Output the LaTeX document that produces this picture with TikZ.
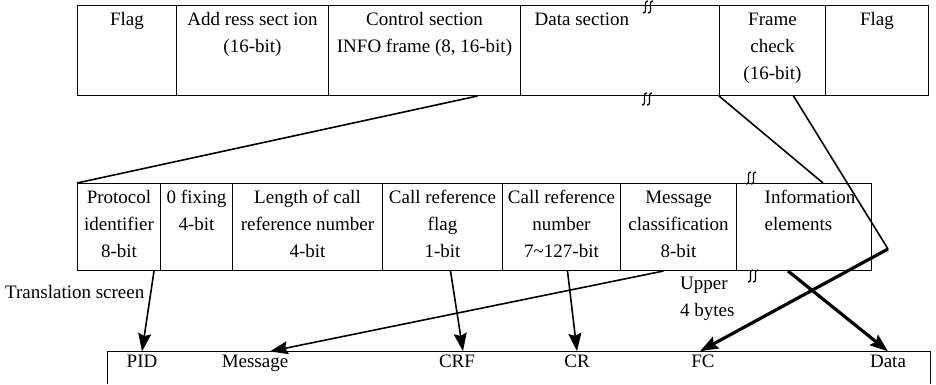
\documentclass[tikz,border=0pt]{standalone}
\usepackage{fontspec}
\setmainfont{Liberation Serif}
\usetikzlibrary{arrows.meta}
\begin{document}
\begin{tikzpicture}[x=1pt, y=-1pt,
    cell/.style={draw, line width=1pt, anchor=north west, inner sep=0pt},
    txt/.style={font=\fontsize{19}{27}\selectfont, align=center, inner sep=1.5pt},
    fld/.style={font=\fontsize{19}{27}\selectfont, anchor=base, inner sep=3pt},
    thinline/.style={line width=1.6pt},
    thickline/.style={line width=3.2pt},
    arr/.style={-{Stealth[length=18pt, width=13pt, inset=2.5pt]}}]
  \useasboundingbox (0,0) rectangle (936,384);

  % frame (top row)
  \node[cell, minimum width=99pt, minimum height=90pt] (fl1) at (77,5) {};
  \node[cell, minimum width=152pt, minimum height=90pt] (addr) at (176,5) {};
  \node[cell, minimum width=192pt, minimum height=90pt] (ctrl) at (328,5) {};
  \node[cell, minimum width=199pt, minimum height=90pt] (data) at (520,5) {};
  \node[cell, minimum width=106pt, minimum height=90pt] (fcs) at (719,5) {};
  \node[cell, minimum width=103pt, minimum height=90pt] (fl2) at (825,5) {};

  \node[txt, anchor=north] (tfl1) at (fl1.north) {\strut Flag};
  \node[txt, anchor=north] (taddr) at (addr.north) {\strut Add ress sect ion\\(16-bit)};
  \node[txt, anchor=north] (tctrl) at (ctrl.north) {\strut Control section\\INFO frame (8, 16-bit)};
  \node[txt, anchor=north west] (tdata) at ([xshift=13pt]data.north west) {\strut Data section};
  \node[txt, anchor=north] (tfcs) at (fcs.north) {\strut Frame\\check\\(16-bit)};
  \node[txt, anchor=north] (tfl2) at (fl2.north) {\strut Flag};

  % information section (middle row)
  \node[cell, minimum width=83pt, minimum height=87pt] (pid) at (77,183) {};
  \node[cell, minimum width=72pt, minimum height=87pt] (zero) at (160,183) {};
  \node[cell, minimum width=150pt, minimum height=87pt] (len) at (232,183) {};
  \node[cell, minimum width=120pt, minimum height=87pt] (crf) at (382,183) {};
  \node[cell, minimum width=118pt, minimum height=87pt] (cr) at (502,183) {};
  \node[cell, minimum width=116pt, minimum height=87pt] (msg) at (620,183) {};
  \node[cell, minimum width=135pt, minimum height=87pt] (info) at (736,183) {};

  \node[txt, anchor=north] (tpid) at (pid.north) {\strut Protocol\\identifier\\8-bit};
  \node[txt, anchor=north] (tzero) at (zero.north) {\strut 0 fixing\\4-bit};
  \node[txt, anchor=north] (tlen) at (len.north) {\strut Length of call\\reference number\\4-bit};
  \node[txt, anchor=north] (tcrf) at (crf.north) {\strut Call reference\\flag\\1-bit};
  \node[txt, anchor=north] (tcr) at (cr.north) {\strut Call reference\\number\\7\textasciitilde127-bit};
  \node[txt, anchor=north] (tmsg) at (msg.north) {\strut Message\\classification\\8-bit};
  \node[txt, anchor=north west, align=left] (tinfo) at ([xshift=27pt]info.north west) {\strut Information\\elements};

  % break marks
  \foreach \bx/\by in {648/7, 647/99, 751/178, 753/276}
    \foreach \dx in {-2.5, 2.5}
      \draw[line width=1.3pt] (\bx+\dx-2.5, \by+6) .. controls (\bx+\dx+1, \by+6) and (\bx+\dx, \by+2) .. (\bx+\dx, \by)
        .. controls (\bx+\dx, \by-2) and (\bx+\dx-1, \by-6) .. (\bx+\dx+2.5, \by-6);

  % translation screen (bottom)
  \draw[line width=1pt] (107,384) |- (930,351) -- (930,384);
  \node[fld] (bPID) at (142,367) {PID};
  \node[fld] (bMsg) at (255,367) {Message};
  \node[fld] (bCRF) at (457,367) {CRF};
  \node[fld] (bCR) at (577,367) {CR};
  \node[fld] (bFC) at (703,367) {FC};
  \node[fld] (bData) at (888,367) {Data};

  \node[txt, anchor=north west] (trans) at (3.5,277.6) {\strut Translation screen};
  \node[txt, anchor=north west, align=left] (upper) at (678.5,268.6) {\strut Upper\\4 bytes};

  \coordinate (bend) at (888,249);

  % connectors
  \draw[thinline] ([xshift=53pt]ctrl.south) -- (pid.north west);
  \draw[thinline] (fcs.south west) -- ([xshift=19pt]info.north);
  \draw[thinline] ([xshift=21pt]fcs.south) -- (bend);
  \draw[thickline, arr] (bend) -- ([xshift=-3pt]bFC.north);
  \draw[thickline, arr] ([xshift=-16pt]info.south) -- (bData.north);
  \draw[thinline, arr] ([xshift=-7pt]pid.south east) -- (bPID.north);
  \draw[thinline, arr] ([xshift=8pt]crf.south) -- ([xshift=6pt]bCRF.north);
  \draw[thinline, arr] ([xshift=6pt]cr.south) -- (bCR.north);
  \draw[thinline, arr] ([xshift=-15pt]msg.south) -- ([xshift=15pt]bMsg.north);
\end{tikzpicture}
\end{document}
